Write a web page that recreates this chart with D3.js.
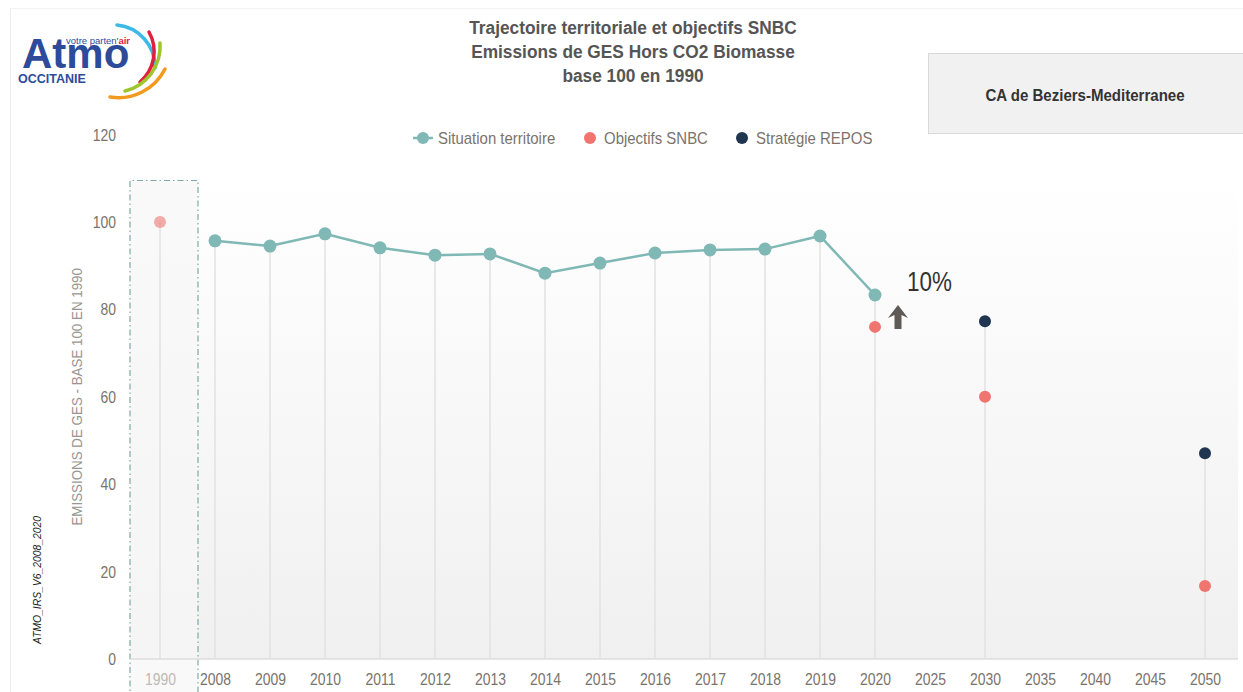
<!DOCTYPE html>
<html><head><meta charset="utf-8">
<script src="https://cdn.jsdelivr.net/npm/d3@7"></script>
<style>
html,body{margin:0;padding:0;background:#fff;overflow:hidden}
svg{display:block}
</style></head>
<body>
<svg id="chart" width="1243" height="692"></svg>
<script>
const categories = ["1990","2008","2009","2010","2011","2012","2013","2014","2015","2016","2017","2018","2019","2020","2025","2030","2035","2040","2045","2050"];
const situationYears = ["2008","2009","2010","2011","2012","2013","2014","2015","2016","2017","2018","2019","2020"];
const situationValues = [95.7,94.5,97.3,94.1,92.4,92.7,88.3,90.6,92.9,93.6,93.8,96.8,83.3];
const snbcYears = ["1990","2020","2030","2050"];
const snbcValues = [100,76.0,60.0,16.7];
const reposYears = ["2030","2050"];
const reposValues = [77.3,47.1];
const yTicks = [0,20,40,60,80,100,120];
const titleLines = ["Trajectoire territoriale et objectifs SNBC","Emissions de GES Hors CO2 Biomasse","base 100 en 1990"];
const legendItems = ["Situation territoire","Objectifs SNBC","Stratégie REPOS"];
const territory = "CA de Beziers-Mediterranee";
const yAxisTitle = "EMISSIONS DE GES - BASE 100 EN 1990";
const versionLabel = "ATMO_IRS_V6_2008_2020";
const changeLabel = "10%";

const C_SIT = "#7fb8b5", C_SNBC = "#f07470", C_REPOS = "#1f3550";
const svg = d3.select("#chart");
const font = '"Liberation Sans",Arial,sans-serif';

function narrow(sel, f){
  sel.each(function(){
    const L = this.getComputedTextLength();
    d3.select(this).attr("textLength", L*f).attr("lengthAdjust","spacingAndGlyphs");
  });
}

const x = d3.scalePoint().domain(categories).range([160,1205]);
const y = d3.scaleLinear().domain([0,120]).range([659,134.6]);

// frame
svg.append("line").attr("x1",10.5).attr("x2",10.5).attr("y1",8).attr("y2",692).attr("stroke","#ececec");
svg.append("line").attr("x1",10).attr("x2",1243).attr("y1",8.5).attr("y2",8.5).attr("stroke","#f3f3f3");

// background gradient
const defs = svg.append("defs");
const g = defs.append("linearGradient").attr("id","bg").attr("x1",0).attr("x2",0).attr("y1",0).attr("y2",1);
g.append("stop").attr("offset","0%").attr("stop-color","#ffffff");
g.append("stop").attr("offset","100%").attr("stop-color","#f0f0f0");
svg.append("rect").attr("x",130).attr("y",180).attr("width",1108).attr("height",y(0)-180).attr("fill","url(#bg)");

// 1990 box
const bx0 = x("1990")-30, bx1 = x("1990")+38;
svg.append("rect").attr("x",bx0).attr("y",180).attr("width",bx1-bx0).attr("height",520)
  .attr("fill","#f7f7f7").attr("fill-opacity",0.7);
svg.append("path").attr("d",`M${bx0},700V180.5H${bx1}V700`).attr("fill","none")
  .attr("stroke","#7fa9a6").attr("stroke-width",1.2).attr("stroke-dasharray","6,3,1.5,3");

// baseline
svg.append("line").attr("x1",130).attr("x2",1238).attr("y1",y(0)).attr("y2",y(0)).attr("stroke","#dcdcdc").attr("stroke-width",1.5);

// drop lines
const tops = {};
situationYears.forEach((k,i)=>{tops[k]=Math.max(tops[k]||0,situationValues[i]);});
snbcYears.forEach((k,i)=>{tops[k]=Math.max(tops[k]||0,snbcValues[i]);});
reposYears.forEach((k,i)=>{tops[k]=Math.max(tops[k]||0,reposValues[i]);});
svg.append("g").selectAll("line").data(Object.keys(tops)).join("line")
  .attr("x1",d=>x(d)).attr("x2",d=>x(d)).attr("y1",d=>y(tops[d])).attr("y2",y(0))
  .attr("stroke","#e2e2e2").attr("stroke-width",1.5);

// situation line
const sit = situationYears.map((k,i)=>({k,v:situationValues[i]}));
svg.append("path").datum(sit).attr("fill","none").attr("stroke",C_SIT).attr("stroke-width",2.5)
  .attr("d",d3.line().x(d=>x(d.k)).y(d=>y(d.v)));
svg.append("g").selectAll("circle").data(sit).join("circle")
  .attr("cx",d=>x(d.k)).attr("cy",d=>y(d.v)).attr("r",6.5).attr("fill",C_SIT);

// SNBC
svg.append("g").selectAll("circle").data(snbcYears.map((k,i)=>({k,v:snbcValues[i]}))).join("circle")
  .attr("cx",d=>x(d.k)).attr("cy",d=>y(d.v)).attr("r",6).attr("fill",C_SNBC)
  .attr("opacity",d=>d.k==="1990"?0.6:1);
// REPOS
svg.append("g").selectAll("circle").data(reposYears.map((k,i)=>({k,v:reposValues[i]}))).join("circle")
  .attr("cx",d=>x(d.k)).attr("cy",d=>y(d.v)).attr("r",6).attr("fill",C_REPOS);

// axes
const xa = svg.append("g").attr("transform",`translate(0,${y(0)})`)
  .call(d3.axisBottom(x).tickSize(0).tickPadding(14));
xa.select(".domain").remove();
xa.selectAll("text").attr("font-family",font).attr("font-size",17).attr("fill",d=>d==="1990"?"#bdbab7":"#7a736d");
narrow(xa.selectAll("text"),0.82);

const ya = svg.append("g").attr("transform",`translate(116,0)`)
  .call(d3.axisLeft(y).tickValues(yTicks).tickSize(0).tickPadding(0));
ya.select(".domain").remove();
ya.selectAll("text").attr("font-family",font).attr("font-size",17).attr("fill","#7a736d");
narrow(ya.selectAll("text"),0.82);

// y title
narrow(svg.append("text").attr("transform",`translate(82,${y(60)}) rotate(-90)`).attr("text-anchor","middle")
  .attr("font-family",font).attr("font-size",15).attr("fill","#9a9591").text(yAxisTitle),0.89);
narrow(svg.append("text").attr("transform",`translate(41,580) rotate(-90)`).attr("text-anchor","middle")
  .attr("font-family",font).attr("font-size",11).attr("font-style","italic").attr("fill","#222").text(versionLabel),0.94);

// arrow + label
const ax = x("2020")+23, ay = y(76);
svg.append("path").attr("d",`M${ax},${ay-22}L${ax+10},${ay-9}L${ax+3.5},${ay-12}L${ax+3.5},${ay+2}L${ax-3.5},${ay+2}L${ax-3.5},${ay-12}L${ax-10},${ay-9}Z`)
  .attr("fill","#5f5a55");
narrow(svg.append("text").attr("x",x("2020")+32).attr("y",y(83.3)-4).attr("font-family",font)
  .attr("font-size",27).attr("fill","#333").text(changeLabel),0.83);

// title
narrow(svg.append("g").selectAll("text").data(titleLines).join("text")
  .attr("x",633).attr("y",(d,i)=>34+i*24).attr("text-anchor","middle")
  .attr("font-family",font).attr("font-weight","bold").attr("font-size",18).attr("fill","#555").text(d=>d),0.96);

// territory box
svg.append("rect").attr("x",928.5).attr("y",53.5).attr("width",320).attr("height",80).attr("fill","#f1f1f1").attr("stroke","#d9d9d9");
narrow(svg.append("text").attr("x",1085).attr("y",101).attr("text-anchor","middle").attr("font-family",font)
  .attr("font-weight","bold").attr("font-size",16).attr("fill","#333").text(territory),0.94);

// legend
const lg = svg.append("g").attr("font-family",font).attr("font-size",17).attr("fill","#7a736d");
lg.append("line").attr("x1",413).attr("x2",433).attr("y1",138).attr("y2",138).attr("stroke",C_SIT).attr("stroke-width",2.5);
lg.append("circle").attr("cx",423).attr("cy",138).attr("r",6).attr("fill",C_SIT);
lg.append("circle").attr("cx",590).attr("cy",138).attr("r",6).attr("fill",C_SNBC);
lg.append("circle").attr("cx",742).attr("cy",138).attr("r",6).attr("fill",C_REPOS);
const lx = [438,604,756];
narrow(lg.selectAll("text").data(legendItems).join("text").attr("x",(d,i)=>lx[i]).attr("y",144).text(d=>d),0.88);

// logo
const logo = svg.append("g").attr("font-family",font);
logo.append("text").attr("x",22).attr("y",68)
  .attr("font-weight","bold").attr("font-size",42).attr("fill","#2d4b9b").text("Atmo");
const small = logo.append("text").attr("x",66).attr("y",44).attr("font-size",9.5).attr("fill","#2d4b9b");
small.append("tspan").text("votre parten'");
small.append("tspan").attr("font-weight","bold").attr("fill","#e0203f").text("air");
narrow(small,1);
small.attr("textLength",64);
logo.append("text").attr("x",18).attr("y",83)
  .attr("font-weight","bold").attr("font-size",12.5).attr("fill","#2d4b9b").text("OCCITANIE");
const arcs = [
  ["M117,25 A42,42 0 0 1 155,68","#3cb9e6"],
  ["M149,32 A40,40 0 0 1 140,82","#e0203f"],
  ["M160,43 A46,46 0 0 1 125,91","#9ec62b"],
  ["M165,69 A52,52 0 0 1 110,97","#f39a1e"]
];
logo.selectAll("path").data(arcs).join("path").attr("d",d=>d[0]).attr("fill","none")
  .attr("stroke",d=>d[1]).attr("stroke-width",3.5).attr("stroke-linecap","round");
</script>
</body></html>
